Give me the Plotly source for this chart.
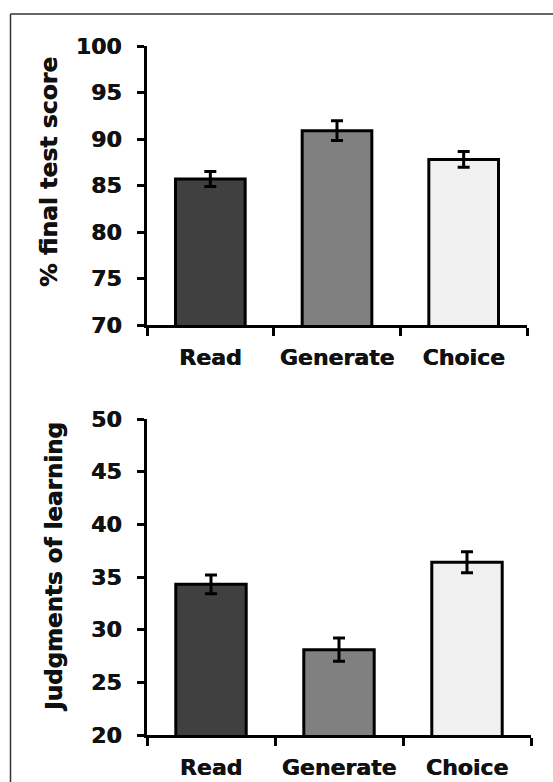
import plotly.graph_objects as go

categories = ["Read", "Generate", "Choice"]
bar_colors = ["#404040", "#808080", "#f0f0f0"]

test_score = [85.7, 90.9, 87.8]
test_score_err = [0.8, 1.05, 0.85]

jol = [34.3, 28.1, 36.4]
jol_err = [0.9, 1.1, 1.0]

top_title = "% final test score"
bottom_title = "Judgments of learning"

W, H = 553, 782
FONT = "DejaVu Sans"
HEAVY = "0.6px 0 0 #111111"

def px_x(p):
    return p / W

def px_y(p):
    return 1 - p / H

fig = go.Figure()

fig.add_trace(go.Bar(
    x=categories, y=test_score, xaxis="x", yaxis="y",
    marker=dict(color=bar_colors, line=dict(color="black", width=3)),
    width=0.55,
    error_y=dict(type="data", array=test_score_err, color="black", thickness=3, width=6),
    showlegend=False, hoverinfo="skip",
))
fig.add_trace(go.Bar(
    x=categories, y=jol, xaxis="x2", yaxis="y2",
    marker=dict(color=bar_colors, line=dict(color="black", width=3)),
    width=0.55,
    error_y=dict(type="data", array=jol_err, color="black", thickness=3, width=6),
    showlegend=False, hoverinfo="skip",
))

xcommon = dict(
    type="category", range=[-0.5, 2.5], showline=True, linecolor="black", linewidth=3,
    ticks="outside", tickson="boundaries", ticklen=8, tickwidth=3, tickcolor="black",
    showgrid=False, zeroline=False, automargin=False, fixedrange=True,
    tickfont=dict(family=FONT, size=22, color="#111111", weight="bold", shadow=HEAVY),
    ticklabelstandoff=11,
)
ycommon = dict(
    showline=True, linecolor="black", linewidth=3,
    ticks="outside", ticklen=7, tickwidth=3, tickcolor="black",
    showgrid=False, zeroline=False, dtick=5, automargin=False, fixedrange=True,
    tickfont=dict(family=FONT, size=22, color="#111111", weight="bold", shadow=HEAVY),
    ticklabelstandoff=11,
)

fx0 = px_x(10.5)
fy1 = px_y(14)

fig.update_layout(
    width=W, height=H,
    margin=dict(l=0, r=0, t=0, b=0, autoexpand=False),
    paper_bgcolor="white", plot_bgcolor="white",
    bargap=0.45,
    xaxis=dict(domain=[px_x(147), px_x(527)], anchor="y", **xcommon),
    yaxis=dict(domain=[px_y(325), px_y(46)], anchor="x", range=[70, 100], **ycommon),
    xaxis2=dict(domain=[px_x(147), px_x(531)], anchor="y2", **xcommon),
    yaxis2=dict(domain=[px_y(735), px_y(419)], anchor="x2", range=[20, 50], **ycommon),
    annotations=[
        dict(text=top_title, xref="paper", yref="paper", x=px_x(49), y=px_y(172),
             textangle=-90, showarrow=False, xanchor="center", yanchor="middle",
             font=dict(family=FONT, size=23.5, color="#111111", weight="bold", shadow=HEAVY)),
        dict(text=bottom_title, xref="paper", yref="paper", x=px_x(54), y=px_y(567),
             textangle=-90, showarrow=False, xanchor="center", yanchor="middle",
             font=dict(family=FONT, size=23, color="#111111", weight="bold", shadow=HEAVY)),
    ],
    shapes=[
        dict(type="line", xref="paper", yref="paper", x0=fx0, x1=1.0, y0=fy1, y1=fy1,
             line=dict(color="#333333", width=1.5), layer="above"),
        dict(type="line", xref="paper", yref="paper", x0=fx0, x1=fx0, y0=0.0, y1=fy1,
             line=dict(color="#333333", width=1.5), layer="above"),
    ],
)

fig.write_html(
    "out.html",
    config={"displayModeBar": False, "staticPlot": True},
    post_script="document.body.style.margin='0';document.body.style.overflow='hidden';",
)
